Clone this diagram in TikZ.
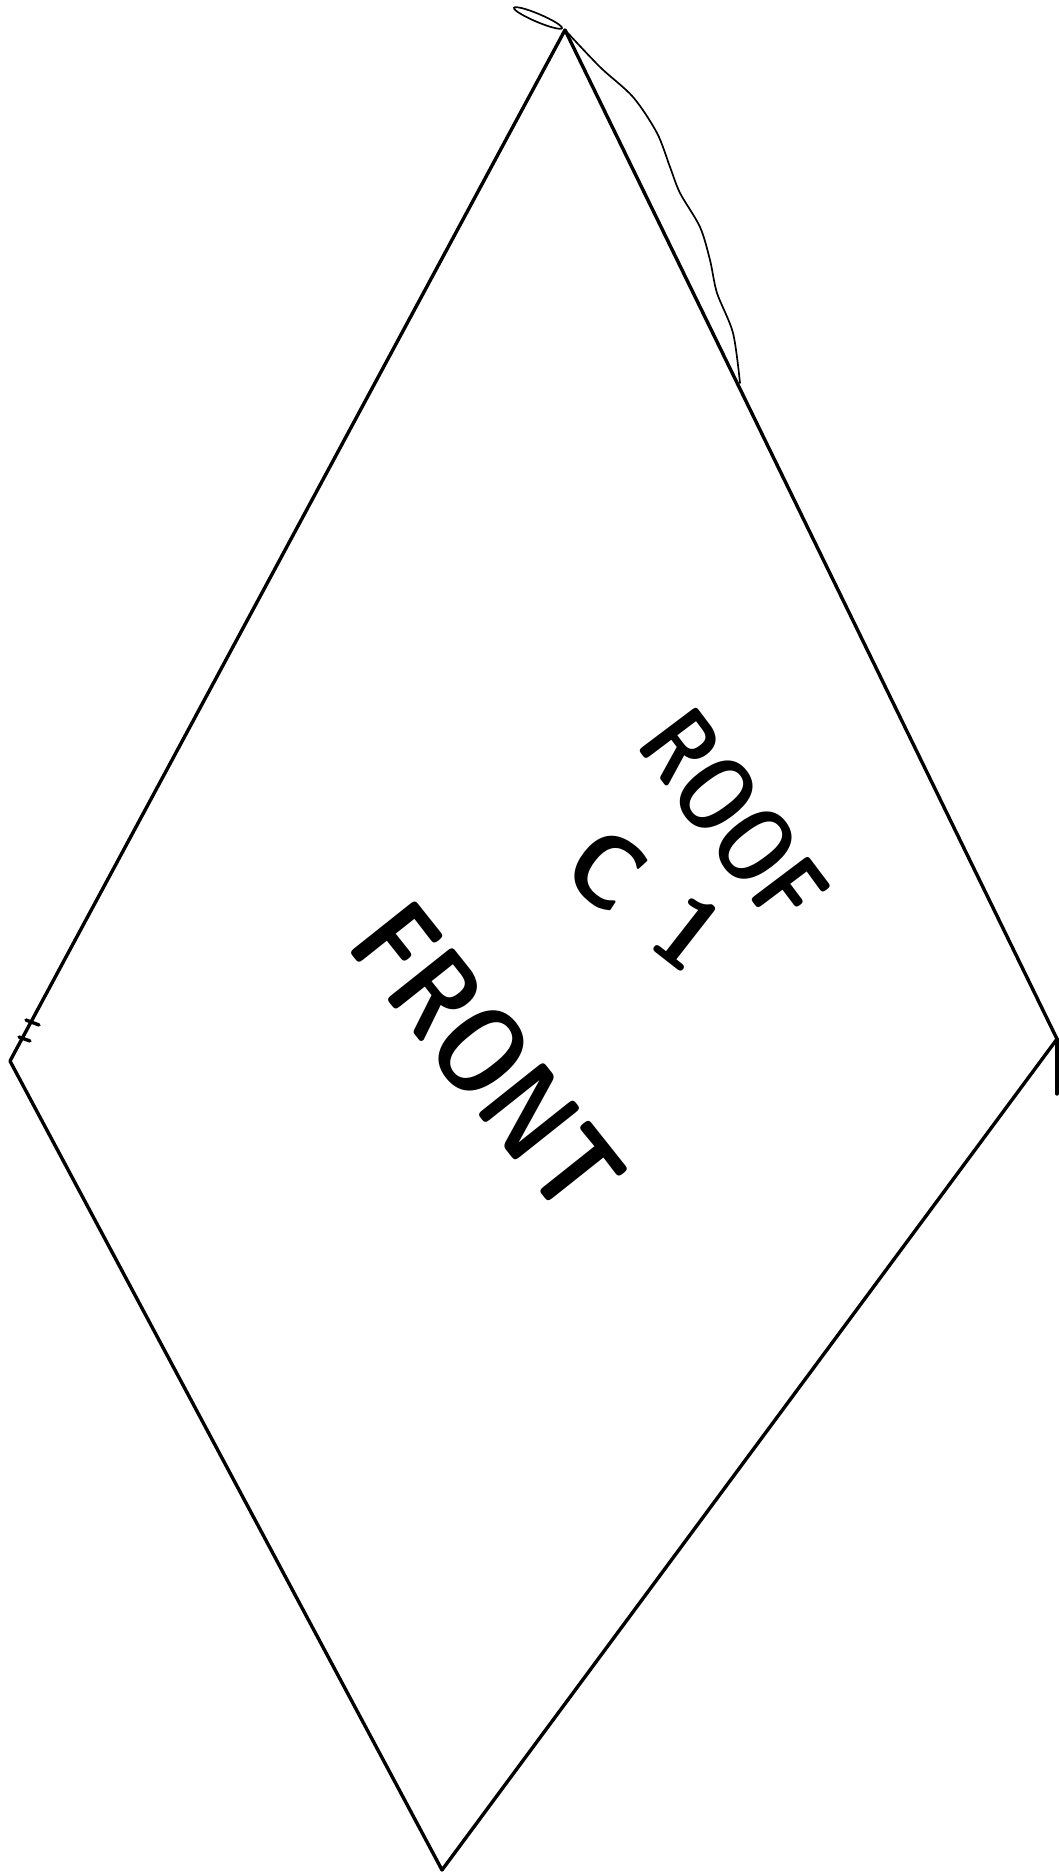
\documentclass[tikz,border=0pt]{standalone}
\usepackage{tikz}
\usetikzlibrary{positioning,calc}

\begin{document}
\begin{tikzpicture}[x=0.025cm, y=-0.025cm,
    edge/.style={line width=2.4pt, line cap=round, line join=round},
    pencil/.style={line width=1.2pt, line cap=round},
    scrawl/.style={font=\sffamily\bfseries\fontsize{#1}{#1}\selectfont, inner sep=0pt}
]
\useasboundingbox (0,0) rectangle (1058,1872);

\coordinate (top) at (565,30);
\coordinate (right) at (1057,1039);
\coordinate (bottom) at (442,1870);
\coordinate (left) at (10,1061);

\draw[edge] (top) -- (right) -- (bottom) -- (left) -- cycle;
\draw[edge] (right) -- ++(0,55);
\draw[pencil] (538,18) ellipse[x radius=26, y radius=4, rotate=-23];
\draw[pencil] plot[smooth] coordinates {(top) (600,67) (633,97) (657,133) (670,167) (680,193) (700,227) (710,260) (717,293) (733,333) (740,383)};
\draw[edge] (26,1020) -- (39,1025);
\draw[edge] (19,1037) -- (30,1041);

\node[scrawl=74, rotate=-53, xscale=0.78] (roof) at (734,817) {ROOF};
\node[scrawl=72, rotate=-38, xscale=0.95] (cone) at (645,899) {C\kern0.45em1};
\node[scrawl=86, rotate=-51.5, xscale=0.81] (front) at (488,1059) {FRONT};
\end{tikzpicture}
\end{document}
